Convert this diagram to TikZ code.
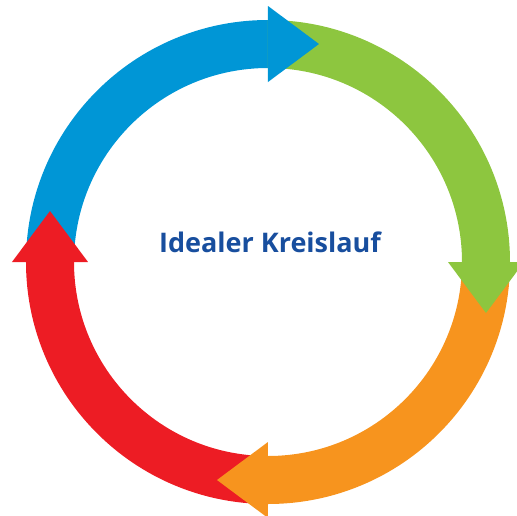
\documentclass[tikz,border=0pt]{standalone}
\usepackage{fontspec}
\setsansfont{Open Sans}
\usepackage{tikz}
\usetikzlibrary{calc}
\definecolor{ringblue}{RGB}{0,150,214}
\definecolor{ringgreen}{RGB}{141,198,63}
\definecolor{ringorange}{RGB}{247,148,30}
\definecolor{ringred}{RGB}{237,28,36}
\definecolor{titleblue}{RGB}{24,78,158}
\tikzset{
  seg/.style   = {draw=none, fill=#1},
  head/.style  = {draw=none, fill=#1},
  title/.style = {font=\sffamily\bfseries\fontsize{27}{32}\selectfont, text=titleblue, inner sep=0pt},
}

\begin{document}
\begin{tikzpicture}[x=1pt,y=1pt]
  \useasboundingbox (-268,-253) rectangle (249,262);
  % the four ring pieces, clockwise from the left
  \foreach \a/\col in {180/ringblue,90/ringgreen,0/ringorange,-90/ringred}
    \fill[seg=\col] (\a:242pt) arc[start angle=\a, end angle=\a-90, radius=242pt]
      -- (\a-90:194pt) arc[start angle=\a-90, end angle=\a, radius=194pt] -- cycle;
  % arrow heads on top of the next piece
  \foreach \a/\col in {90/ringblue,0/ringgreen,-90/ringorange,180/ringred}
    \fill[head=\col] (\a:180pt) -- (\a:256pt) -- ($(\a:218pt)+(\a-90:51pt)$) -- cycle;
  \node[title, anchor=base] (lbl) at (2,10) {Idealer Kreislauf};
\end{tikzpicture}
\end{document}
